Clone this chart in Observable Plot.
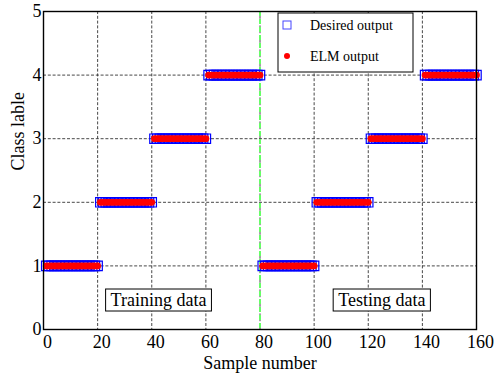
<!DOCTYPE html>
<html><head><meta charset="utf-8">
<script src="https://cdn.jsdelivr.net/npm/d3@7"></script>
<script src="https://cdn.jsdelivr.net/npm/@observablehq/plot@0.6"></script>
<style>body{margin:0;background:#fff} #chart{position:relative;width:501px;height:376px}</style>
</head><body><div id="chart"></div>
<script>
// Data
const segmentClasses = [1, 2, 3, 4, 1, 2, 3, 4];   // class of each block of 20 samples
const samplesPerSegment = 20;
const xTicks = [0, 20, 40, 60, 80, 100, 120, 140, 160];
const yTicks = [0, 1, 2, 3, 4, 5];
const splitAt = [80];
const annotationLabels = ["Training data", "Testing data"];
const annotationX = [42.5, 125];
const annotationY = [0.46, 0.46];
const legendLabels = ["Desired output", "ELM output"];
const xLabel = "Sample number";
const yLabel = "Class lable";

const data = [];
segmentClasses.forEach((c, s) => {
  for (let k = 1; k <= samplesPerSegment; k++) {
    data.push({sample: s * samplesPerSegment + k, desired: c, elm: c});
  }
});
const annotations = annotationLabels.map((label, i) => ({label, x: annotationX[i], y: annotationY[i]}));

const font = "Liberation Serif, Times New Roman, serif";
const plot = Plot.plot({
  width: 501, height: 376,
  marginLeft: 43, marginRight: 25, marginTop: 11, marginBottom: 47,
  x: {domain: [0, 160], label: null},
  y: {domain: [0, 5], label: null},
  style: {fontFamily: font, fontSize: "18px", color: "black", background: "white"},
  marks: [
    Plot.ruleX(xTicks, {stroke: "#333", strokeDasharray: "3,1.8", strokeWidth: 0.9}),
    Plot.ruleY(yTicks, {stroke: "#333", strokeDasharray: "3,1.8", strokeWidth: 0.9}),
    Plot.ruleX(splitAt, {stroke: "#66ff66", strokeDasharray: "5,3", strokeWidth: 2}),
    Plot.dot(data, {x: "sample", y: "desired", symbol: "square", r: 5.3, stroke: "blue", strokeWidth: 1.2, fill: "none"}),
    Plot.dot(data, {x: "sample", y: "elm", r: 3.4, fill: "red", stroke: "none"}),
    Plot.text(annotations, {x: "x", y: "y", text: "label", fontSize: 18, className: "annot"}),
    Plot.axisX(xTicks, {tickSize: 0, tickPadding: 6, dx: 4, fontSize: 18, label: null, tickFormat: d3.format("d")}),
    Plot.axisY(yTicks, {tickSize: 0, tickPadding: 2, fontSize: 18, label: null, tickFormat: d3.format("d")}),
    Plot.text([xLabel], {frameAnchor: "bottom", lineAnchor: "middle", dy: 34, fontSize: 18}),
    Plot.text([yLabel], {frameAnchor: "left", lineAnchor: "middle", dx: -25, rotate: -90, fontSize: 18}),
    Plot.frame({stroke: "black", strokeWidth: 1.4})
  ]
});
document.getElementById("chart").appendChild(plot);

const svg = d3.select(plot);
// boxes around annotations
svg.selectAll("g.annot text").each(function() {
  const b = this.getBBox();
  const t = this.getAttribute("transform");
  d3.select(this.parentNode).insert("rect", () => this)
    .attr("x", b.x - 5).attr("y", b.y - 1).attr("width", b.width + 10).attr("height", b.height + 2)
    .attr("transform", t).attr("fill", "white").attr("stroke", "black").attr("stroke-width", 1);
});

// legend
const lg = svg.append("g").attr("text-anchor", "start");
lg.append("rect").attr("x", 278).attr("y", 13).attr("width", 135).attr("height", 59)
  .attr("fill", "white").attr("stroke", "black").attr("stroke-width", 1);
lg.append("rect").attr("x", 283).attr("y", 21).attr("width", 8).attr("height", 8)
  .attr("fill", "none").attr("stroke", "#4444ff").attr("stroke-width", 1);
lg.append("circle").attr("cx", 287).attr("cy", 56).attr("r", 3).attr("fill", "red");
legendLabels.forEach((l, i) => {
  lg.append("text").attr("x", 310).attr("y", 25 + i * 31).attr("dy", "0.35em")
    .attr("text-anchor", "start")
    .attr("font-family", font).attr("font-size", 14).attr("fill", "black").text(l);
});
</script></body></html>
